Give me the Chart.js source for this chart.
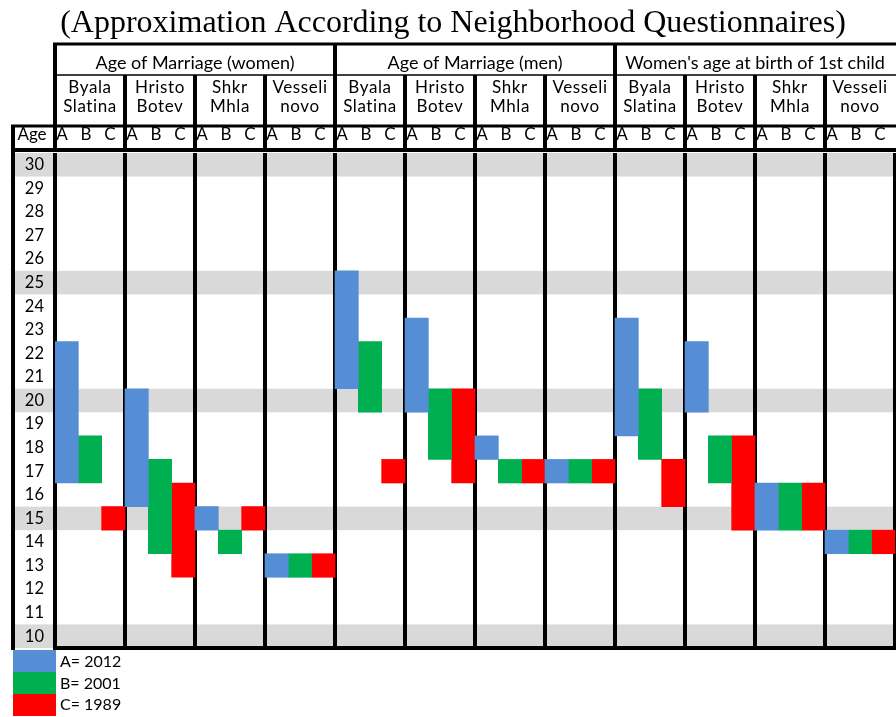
<!DOCTYPE html>
<html>
<head>
<meta charset="utf-8">
<script src="https://cdn.jsdelivr.net/npm/chart.js@4.4.1/dist/chart.umd.min.js"></script>
<style>
html, body { margin: 0; padding: 0; background: #fff; }
</style>
</head>
<body>
<canvas id="grafica" width="896" height="717"></canvas>
<script>
var titulo = "(Approximation According to Neighborhood Questionnaires)";
var secciones = ["Age of Marriage (women)", "Age of Marriage (men)", "Women's age at birth of 1st child"];
var pueblos = [["Byala", "Slatina"], ["Hristo", "Botev"], ["Shkr", "Mhla"], ["Vesseli", "novo"]];
var edades = [30, 29, 28, 27, 26, 25, 24, 23, 22, 21, 20, 19, 18, 17, 16, 15, 14, 13, 12, 11, 10];
var franjasGris = [30, 25, 20, 15, 10];
var letras = ["A", "B", "C"];
var leyenda = ["A= 2012", "B= 2001", "C= 1989"];
var colores = ["#558ed5", "#00b050", "#ff0000"];

// youngest / oldest age per column: women x4, men x4, 1st child x4
var desdeA = [17, 16, 15, 13, 21, 20, 18, 17, 19, 20, 15, 14];
var hastaA = [22, 20, 15, 13, 25, 23, 18, 17, 23, 22, 16, 14];
var desdeB = [17, 14, 14, 13, 20, 18, 17, 17, 18, 17, 15, 14];
var hastaB = [18, 17, 14, 13, 22, 20, 17, 17, 20, 18, 16, 14];
var desdeC = [15, 13, 15, 13, 17, 17, 17, 17, 16, 15, 15, 14];
var hastaC = [15, 16, 15, 13, 17, 20, 17, 17, 17, 18, 16, 14];

var FUENTE = "Lato";

function rangos(desde, hasta) {
    var r = [];
    for (let i = 0; i < desde.length; i++) {
        r.push([desde[i] - 0.5, hasta[i] + 0.5]);
    }
    return r;
}

var columnas = [];
for (let s = 0; s < secciones.length; s++) {
    for (let p = 0; p < pueblos.length; p++) {
        columnas.push(pueblos[p].join(" "));
    }
}

function linea(ctx, x1, y1, x2, y2, ancho) {
    ctx.lineWidth = ancho;
    ctx.beginPath();
    ctx.moveTo(x1, y1);
    ctx.lineTo(x2, y2);
    ctx.stroke();
}

var tabla = {
    id: "tabla",
    beforeDraw: function (chart) {
        var ctx = chart.ctx, area = chart.chartArea, y = chart.scales.y;
        ctx.save();
        ctx.fillStyle = "#fff";
        ctx.fillRect(0, 0, chart.width, chart.height);
        ctx.fillStyle = "#d9d9d9";
        franjasGris.forEach(function (e) {
            var t = y.getPixelForValue(e + 0.5);
            var b = y.getPixelForValue(e - 0.5);
            ctx.fillRect(13, t, area.right - 13, b - t);
        });
        ctx.restore();
    },
    afterDraw: function (chart) {
        var ctx = chart.ctx, area = chart.chartArea, x = chart.scales.x;
        var w = x.getPixelForValue(1) - x.getPixelForValue(0);
        var bordes = [];
        for (let i = 0; i <= columnas.length; i++) {
            bordes.push(x.getPixelForValue(0) - w / 2 + i * w);
        }
        var yTop = 44, yR1 = 75, yR2 = 126, yR3 = area.top - 3;

        ctx.save();
        // title
        ctx.fillStyle = "#000";
        ctx.font = "32px 'Liberation Serif'";
        ctx.textAlign = "center";
        ctx.textBaseline = "alphabetic";
        ctx.fillText(titulo, 453, 32);

        // header lines
        ctx.strokeStyle = "#000";
        linea(ctx, bordes[0] - 2, yTop, chart.width, yTop, 3);
        linea(ctx, bordes[0], yR1, chart.width, yR1, 1.5);
        linea(ctx, 11, yR2, chart.width, yR2, 3);
        linea(ctx, 11, yR3, chart.width, yR3, 4);
        for (let i = 0; i < bordes.length - 1; i++) {
            linea(ctx, bordes[i], i % 4 === 0 ? yTop : yR1, bordes[i], yR3, 4);
        }
        linea(ctx, 13, yR2, 13, area.bottom + 2, 4);

        // header texts
        ctx.font = "18px " + FUENTE;
        for (let s = 0; s < secciones.length; s++) {
            var cx = (bordes[s * 4] + bordes[s * 4 + 4]) / 2;
            ctx.fillText(secciones[s], cx, 69);
        }
        ctx.font = "17px " + FUENTE;
        ctx.letterSpacing = "0.6px";
        for (let i = 0; i < columnas.length; i++) {
            var c = (bordes[i] + bordes[i + 1]) / 2;
            var p = pueblos[i % pueblos.length];
            ctx.fillText(p[0], c, 93);
            ctx.fillText(p[1], c, 112);
        }
        ctx.letterSpacing = "0px";
        for (let i = 0; i < columnas.length; i++) {
            for (let k = 0; k < letras.length; k++) {
                ctx.fillText(letras[k], bordes[i] + 7 + k * 24, 140);
            }
        }
        ctx.fillText("Age", 32, 140);

        // legend
        ctx.textAlign = "left";
        ctx.font = "16px " + FUENTE;
        for (let k = 0; k < leyenda.length; k++) {
            ctx.fillStyle = colores[k];
            ctx.fillRect(13, 650 + k * 22, 43, 22);
            ctx.fillStyle = "#000";
            ctx.fillText(leyenda[k], 60, 667 + k * 21.5);
        }
        ctx.restore();
    }
};

document.addEventListener("DOMContentLoaded", function () {
    var canvas = document.getElementById("grafica");
    var series = [[desdeA, hastaA], [desdeB, hastaB], [desdeC, hastaC]];
    var datasets = [];
    for (let k = 0; k < series.length; k++) {
        datasets.push({
            label: leyenda[k],
            data: rangos(series[k][0], series[k][1]),
            backgroundColor: colores[k],
            borderWidth: 0
        });
    }

    new Chart(canvas, {
        type: "bar",
        data: { labels: columnas, datasets: datasets },
        options: {
            responsive: false,
            animation: false,
            layout: { padding: { left: 13, right: 1, top: 153, bottom: 69 } },
            plugins: { legend: { display: false }, tooltip: { enabled: false } },
            datasets: { bar: { categoryPercentage: 1, barPercentage: 1 } },
            scales: {
                x: {
                    z: 1,
                    ticks: { display: false },
                    grid: {
                        offset: true,
                        drawTicks: false,
                        lineWidth: 4,
                        color: function (c) { return c.index === columnas.length ? "rgba(0,0,0,0)" : "#000"; }
                    },
                    border: { display: true, color: "#000", width: 4 }
                },
                y: {
                    min: 9.5,
                    max: 30.5,
                    afterFit: function (s) { s.width = 42; },
                    afterBuildTicks: function (s) {
                        s.ticks = edades.map(function (v) { return { value: v }; });
                    },
                    grid: { display: false, drawTicks: false },
                    border: { display: false },
                    ticks: { color: "#000", font: { family: FUENTE, size: 16.5 }, crossAlign: "near", padding: 11 }
                }
            }
        },
        plugins: [tabla]
    });
});
</script>
</body>
</html>
